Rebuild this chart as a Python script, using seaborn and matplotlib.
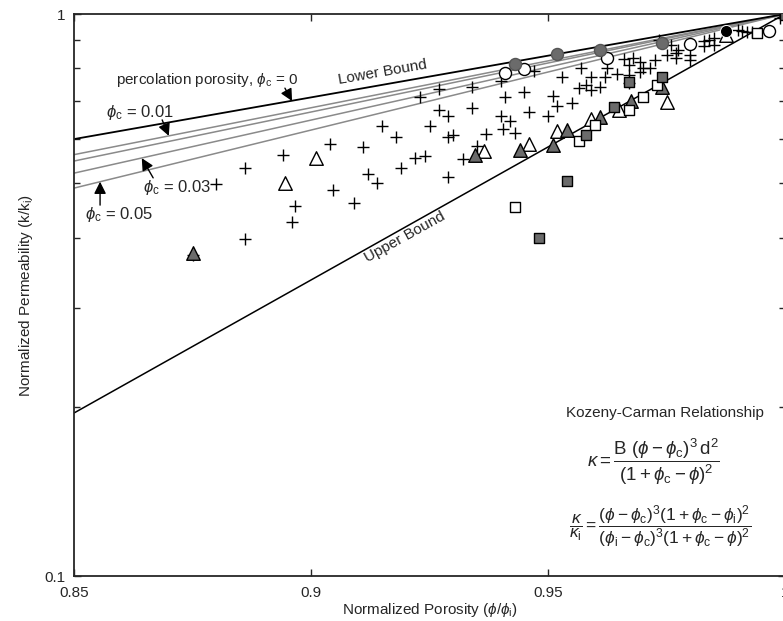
import numpy as np
import pandas as pd
import matplotlib
matplotlib.use('Agg')
import matplotlib.pyplot as plt
import seaborn as sns
from matplotlib.ticker import NullFormatter, FixedLocator

# bound lines (read at x = 0.85 and x = 1.0)
bound_x = [0.85, 1.0]
lower_bound = [0.599, 1.0]
upper_bound = [0.195, 1.0]
phic_labels = ['0.01', '0.02', '0.03', '0.05']
phic_left = [0.562, 0.5475, 0.521, 0.490]

# measured points
plus_x = [0.875, 0.880, 0.886, 0.886, 0.894, 0.896, 0.8966, 0.904, 0.9047, 0.909,
          0.911, 0.912, 0.914, 0.915, 0.918, 0.919, 0.923, 0.925, 0.922, 0.924,
          0.927, 0.927, 0.929, 0.929, 0.930, 0.929, 0.932, 0.934, 0.934, 0.935,
          0.937, 0.940, 0.940, 0.9405, 0.941, 0.942, 0.943, 0.945, 0.946, 0.947,
          0.950, 0.951, 0.952, 0.953, 0.955, 0.9565, 0.957, 0.958, 0.959, 0.959,
          0.961, 0.962, 0.9625, 0.9645, 0.966, 0.967, 0.967, 0.967, 0.968, 0.9695,
          0.9695, 0.970, 0.9716, 0.9725, 0.9735, 0.975, 0.976, 0.977, 0.9775, 0.977,
          0.980, 0.980, 0.983, 0.983, 0.984, 0.985, 0.985, 0.990, 0.991, 0.992,
          0.993, 0.999, 1.0]
plus_y = [0.373, 0.499, 0.397, 0.532, 0.561, 0.427, 0.455, 0.587, 0.486, 0.461,
          0.580, 0.519, 0.500, 0.632, 0.604, 0.532, 0.712, 0.632, 0.554, 0.559,
          0.675, 0.735, 0.658, 0.604, 0.609, 0.513, 0.552, 0.742, 0.680, 0.582,
          0.611, 0.760, 0.658, 0.624, 0.712, 0.645, 0.614, 0.726, 0.669, 0.792,
          0.658, 0.715, 0.686, 0.772, 0.694, 0.738, 0.803, 0.747, 0.733, 0.772,
          0.742, 0.772, 0.801, 0.782, 0.831, 0.811, 0.779, 0.754, 0.835, 0.821,
          0.789, 0.801, 0.801, 0.828, 0.899, 0.845, 0.881, 0.852, 0.863, 0.835,
          0.845, 0.828, 0.877, 0.895, 0.899, 0.881, 0.906, 0.936, 0.933, 0.929,
          0.929, 0.984, 1.0]

tri_open_x = [0.8945, 0.901, 0.9365, 0.946, 0.952, 0.959, 0.965, 0.975, 0.9875]
tri_open_y = [0.500, 0.554, 0.571, 0.587, 0.619, 0.650, 0.675, 0.697, 0.918]
tri_fill_x = [0.875, 0.9345, 0.944, 0.951, 0.954, 0.961, 0.9675, 0.974]
tri_fill_y = [0.376, 0.561, 0.573, 0.585, 0.621, 0.656, 0.700, 0.742]
sq_open_x = [0.943, 0.9565, 0.960, 0.967, 0.970, 0.973, 0.994]
sq_open_y = [0.453, 0.594, 0.634, 0.675, 0.712, 0.747, 0.925]
sq_fill_x = [0.948, 0.954, 0.958, 0.964, 0.967, 0.974, 1.0]
sq_fill_y = [0.400, 0.504, 0.609, 0.683, 0.757, 0.772, 0.996]
circ_open_x = [0.941, 0.945, 0.9625, 0.980, 0.9966]
circ_open_y = [0.785, 0.798, 0.835, 0.884, 0.933]
circ_fill_x = [0.943, 0.952, 0.961, 0.974]
circ_fill_y = [0.815, 0.849, 0.863, 0.888]
circ_black_x = [0.9875]
circ_black_y = [0.933]

sns.set_style('ticks')
plt.rcParams['font.family'] = ['Liberation Sans', 'DejaVu Sans']
plt.rcParams['mathtext.fontset'] = 'custom'
plt.rcParams['mathtext.rm'] = 'Liberation Sans'
plt.rcParams['mathtext.it'] = 'Liberation Sans:italic'
plt.rcParams['mathtext.cal'] = 'Liberation Sans'

fig = plt.figure(figsize=(7.83, 6.21), dpi=100)
ax = fig.add_axes([74 / 783, 45 / 621, 711 / 783, 562 / 621])
ax.set_yscale('log')

gray = '#8a8a8a'
for lbl, y0 in zip(phic_labels, phic_left):
    sns.lineplot(x=bound_x, y=[y0, 1.0], color=gray, lw=1.1, ax=ax)
sns.lineplot(x=bound_x, y=lower_bound, color='black', lw=1.3, ax=ax)
sns.lineplot(x=bound_x, y=upper_bound, color='black', lw=1.1, ax=ax)

sns.scatterplot(x=plus_x, y=plus_y, marker='+', s=75, color='black', linewidth=1.0, ax=ax, zorder=3)
sns.scatterplot(x=tri_open_x, y=tri_open_y, marker='^', s=95, facecolor='white', edgecolor='black', linewidth=1.0, ax=ax, zorder=4)
sns.scatterplot(x=tri_fill_x, y=tri_fill_y, marker='^', s=95, facecolor='#6b6b6b', edgecolor='black', linewidth=1.0, ax=ax, zorder=4)
sns.scatterplot(x=sq_open_x, y=sq_open_y, marker='s', s=50, facecolor='white', edgecolor='black', linewidth=1.0, ax=ax, zorder=4)
sns.scatterplot(x=sq_fill_x, y=sq_fill_y, marker='s', s=50, facecolor='#6b6b6b', edgecolor='black', linewidth=1.0, ax=ax, zorder=4)
sns.scatterplot(x=circ_open_x, y=circ_open_y, marker='o', s=75, facecolor='white', edgecolor='black', linewidth=1.0, ax=ax, zorder=4)
sns.scatterplot(x=circ_fill_x, y=circ_fill_y, marker='o', s=75, facecolor='#6b6b6b', edgecolor='#555555', linewidth=1.0, ax=ax, zorder=4)
sns.scatterplot(x=circ_black_x, y=circ_black_y, marker='o', s=75, color='black', ax=ax, zorder=4)

ax.set_xlim(0.85, 1.0)
ax.set_ylim(0.1, 1.0)
ax.set_xticks([0.85, 0.9, 0.95, 1.0])
ax.set_xticklabels(['0.85', '0.9', '0.95', '1'])
ax.set_yticks([0.1, 1.0])
ax.set_yticklabels(['0.1', '1'])
ax.yaxis.set_minor_locator(FixedLocator([0.2, 0.3, 0.4, 0.5, 0.6, 0.7, 0.8, 0.9]))
ax.yaxis.set_minor_formatter(NullFormatter())
ax.tick_params(which='both', direction='in', top=True, right=True, labelsize=11, width=1)
ax.tick_params(which='major', length=5)
ax.tick_params(which='minor', length=4)
ax.tick_params(axis='x', pad=7)
ax.tick_params(axis='y', pad=6)
for sp in ax.spines.values():
    sp.set_linewidth(1.3)

ax.set_xlabel(r'Normalized Porosity ($\phi/\phi_\mathrm{i}$)', fontsize=11, labelpad=1)
ax.set_ylabel(r'Normalized Permeability (k/k$_\mathrm{i}$)', fontsize=11, labelpad=7)

arrow = dict(arrowstyle='-|>', color='black', lw=1.0, mutation_scale=18, shrinkA=0, shrinkB=0)
ax.text(0.878, 0.763, r'percolation porosity, $\phi_\mathrm{c}$ = 0', fontsize=11, ha='center', va='center')
ax.annotate('', xy=(0.896, 0.70), xytext=(0.8945, 0.738), arrowprops=arrow)
ax.text(0.864, 0.667, r'$\phi_\mathrm{c}$ = 0.01', fontsize=12, ha='center', va='center')
ax.annotate('', xy=(0.870, 0.607), xytext=(0.8686, 0.648), arrowprops=arrow)
ax.text(0.8717, 0.492, r'$\phi_\mathrm{c}$ = 0.03', fontsize=12, ha='center', va='center')
ax.annotate('', xy=(0.8643, 0.554), xytext=(0.8667, 0.511), arrowprops=arrow)
ax.text(0.8595, 0.439, r'$\phi_\mathrm{c}$ = 0.05', fontsize=12, ha='center', va='center')
ax.annotate('', xy=(0.8555, 0.503), xytext=(0.8555, 0.457), arrowprops=arrow)

ax.text(0.915, 0.788, 'Lower Bound', fontsize=11, ha='center', va='center', rotation=10)
ax.text(0.9198, 0.401, 'Upper Bound', fontsize=11, ha='center', va='center', rotation=29)

ax.text(0.831, 0.29, 'Kozeny-Carman Relationship', transform=ax.transAxes, fontsize=11, ha='center', va='center')
ax.text(0.815, 0.203,
        r'$\kappa = \dfrac{\mathrm{B}\ (\phi-\phi_\mathrm{c})^3\,\mathrm{d}^2}{(1+\phi_\mathrm{c}-\phi)^2}$',
        transform=ax.transAxes, fontsize=13.5, ha='center', va='center')
ax.text(0.824, 0.087,
        r'$\dfrac{\kappa}{\kappa_\mathrm{i}} = \dfrac{(\phi-\phi_\mathrm{c})^3(1+\phi_\mathrm{c}-\phi_\mathrm{i})^2}{(\phi_\mathrm{i}-\phi_\mathrm{c})^3(1+\phi_\mathrm{c}-\phi)^2}$',
        transform=ax.transAxes, fontsize=12.5, ha='center', va='center')

fig.savefig('out.png', dpi=100)
